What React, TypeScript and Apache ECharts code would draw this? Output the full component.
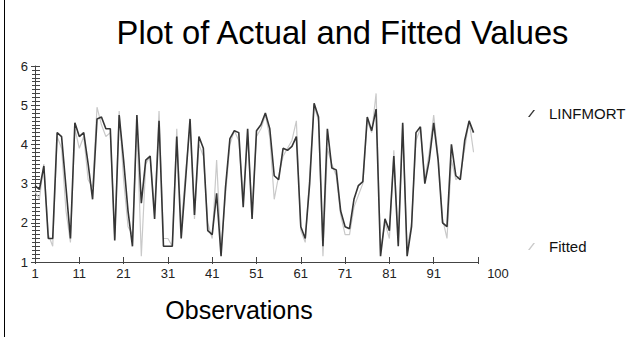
import React, { useEffect, useRef } from "react";
import * as echarts from "echarts";

const FONT = "Liberation Sans, Arial, sans-serif";

const xTickLabels = ["1", "11", "21", "31", "41", "51", "61", "71", "81", "91", "100"];
const yTickLabels = ["1", "2", "3", "4", "5", "6"];

const linfmort = [
  2.95, 2.85, 3.45, 1.6, 1.6, 4.3, 4.2, 2.9, 1.6, 4.55,
  4.2, 4.3, 3.5, 2.6, 4.65, 4.7, 4.4, 4.4, 1.55, 4.75,
  3.6, 2.3, 1.4, 4.75, 2.5, 3.6, 3.7, 2.1, 4.6, 1.4,
  1.4, 1.4, 4.2, 1.6, 3.1, 4.65, 2.2, 4.2, 3.9, 1.8,
  1.7, 2.75, 1.15, 2.9, 4.15, 4.35, 4.3, 2.4, 4.4, 2.1,
  4.35, 4.5, 4.8, 4.4, 3.2, 3.1, 3.9, 3.85, 3.95, 4.2,
  1.9, 1.6, 3.0, 5.05, 4.7, 1.4, 4.4, 3.4, 3.35, 2.3,
  1.9, 1.85, 2.6, 2.95, 3.05, 4.7, 4.35, 4.9, 1.15, 2.1,
  1.8, 3.7, 1.4, 4.55, 1.15, 1.9, 4.3, 4.45, 3.0, 3.6,
  4.55, 3.6, 2.0, 1.9, 4.0, 3.2, 3.1, 4.1, 4.6, 4.3,
];

const fitted = [
  2.8, 2.6, 3.5, 1.7, 1.4, 4.2, 3.9, 2.3, 1.5, 4.4,
  3.9, 4.2, 3.1, 2.9, 4.95, 4.5, 4.2, 4.3, 1.6, 4.85,
  3.1, 1.9, 1.7, 4.5, 1.15, 3.5, 3.7, 2.3, 4.85, 1.6,
  1.6, 1.4, 4.4, 1.9, 3.3, 4.45, 2.1, 4.0, 3.7, 2.0,
  1.6, 3.6, 1.3, 2.7, 4.0, 4.35, 4.1, 2.6, 4.2, 2.3,
  4.2, 4.4, 4.75, 4.2, 2.6, 3.2, 3.7, 3.9, 4.1, 4.6,
  1.8, 1.5, 3.2, 5.0, 4.6, 1.15, 3.9, 3.5, 3.2, 2.2,
  1.7, 1.7, 2.4, 2.7, 3.0, 4.6, 4.3, 5.3, 1.3, 2.0,
  1.6, 3.85, 1.5, 4.5, 1.3, 2.0, 4.1, 4.4, 3.1, 3.8,
  4.75, 3.7, 2.1, 1.6, 3.6, 3.1, 3.2, 3.9, 4.6, 3.8,
];

const seriesNames = ["LINFMORT", "Fitted"];
const titleText = "Plot of Actual and Fitted Values";
const xAxisTitle = "Observations";

const DARK = "#353535";
const LIGHT = "#c9c9c9";
const AXIS = "#444444";

const slashIcon = "path://M0,10 L2.4,10 L10,0 L7.6,0 Z";

export default function App() {
  const ref = useRef<HTMLDivElement>(null);
  useEffect(() => {
    if (!ref.current) return;
    const chart = echarts.init(ref.current, undefined, { renderer: "svg" });
    const grid = { left: 35, right: 154, top: 66, bottom: 75 };
    const xBase = {
      type: "value",
      min: 0,
      max: 100,
      interval: 10,
      splitLine: { show: false },
    };
    const yBase = {
      type: "value",
      min: 1,
      max: 6,
      interval: 1,
      splitLine: { show: false },
    };
    chart.setOption({
      animation: false,
      backgroundColor: "#ffffff",
      grid,
      xAxis: [
        {
          ...xBase,
          axisLine: { show: true, lineStyle: { color: AXIS, width: 1 } },
          axisTick: { show: true, inside: false, length: 2, lineStyle: { color: AXIS } },
          axisLabel: {
            show: true,
            color: "#222",
            fontFamily: FONT,
            fontSize: 13,
            margin: 5,
            formatter: (v: number) => {
              const lab = xTickLabels[Math.round(v / 10)];
              return v === 100 ? `{last|${lab}}` : lab;
            },
            rich: {
              last: { padding: [0, 0, 0, 40], fontFamily: FONT, fontSize: 13, color: "#222" },
            },
          },
        },
        {
          ...xBase,
          position: "bottom",
          axisLine: { show: false },
          axisTick: { show: true, inside: true, length: 5, lineStyle: { color: AXIS } },
          axisLabel: { show: false },
        },
      ],
      yAxis: [
        {
          ...yBase,
          axisLine: { show: true, lineStyle: { color: AXIS, width: 1 } },
          axisTick: { show: true, inside: false, length: 4, lineStyle: { color: AXIS } },
          minorTick: { show: true, splitNumber: 10, length: 3, lineStyle: { color: AXIS } },
          axisLabel: {
            show: true,
            color: "#222",
            fontFamily: FONT,
            fontSize: 13,
            margin: 7,
            formatter: (v: number) => yTickLabels[Math.round(v - 1)],
          },
        },
        {
          ...yBase,
          position: "left",
          axisLine: { show: false },
          axisTick: { show: true, inside: true, length: 5, lineStyle: { color: AXIS } },
          minorTick: { show: true, splitNumber: 10, length: 5, lineStyle: { color: AXIS } },
          axisLabel: { show: false },
        },
      ],
      legend: [
        {
          data: [{ name: seriesNames[0], icon: slashIcon }],
          left: 528,
          top: 106,
          padding: 0,
          itemWidth: 7,
          itemHeight: 9,
          textStyle: { fontFamily: FONT, fontSize: 15, color: "#111", padding: [0, 0, 0, 9] },
          selectedMode: false,
        },
        {
          data: [{ name: seriesNames[1], icon: slashIcon }],
          left: 528,
          top: 239,
          padding: 0,
          itemWidth: 7,
          itemHeight: 9,
          textStyle: { fontFamily: FONT, fontSize: 15, color: "#111", padding: [0, 0, 0, 9] },
          selectedMode: false,
        },
      ],
      series: [
        {
          name: seriesNames[1],
          type: "line",
          data: fitted.map((v, i) => [i, v]),
          showSymbol: false,
          symbol: "none",
          lineStyle: { color: LIGHT, width: 1.2 },
          itemStyle: { color: LIGHT },
          z: 2,
        },
        {
          name: seriesNames[0],
          type: "line",
          data: linfmort.map((v, i) => [i, v]),
          showSymbol: false,
          symbol: "none",
          lineStyle: { color: DARK, width: 1.6 },
          itemStyle: { color: DARK },
          z: 3,
        },
      ],
      graphic: [
        {
          type: "text",
          x: 342.5,
          y: 32,
          style: {
            text: titleText,
            fontFamily: FONT,
            fontSize: 32.7,
            fill: "#000",
            align: "center",
            verticalAlign: "middle",
          },
        },
        {
          type: "text",
          x: 239,
          y: 310,
          style: {
            text: xAxisTitle,
            fontFamily: FONT,
            fontSize: 25,
            fill: "#000",
            align: "center",
            verticalAlign: "middle",
          },
        },
        {
          type: "line",
          shape: { x1: 4.5, y1: 0, x2: 4.5, y2: 337 },
          style: { stroke: "#000", lineWidth: 1 },
        },
      ],
    });
    return () => chart.dispose();
  }, []);
  return (
    <div
      ref={ref}
      style={{ position: "fixed", left: 0, top: 0, width: 632, height: 337, background: "#fff" }}
    />
  );
}
